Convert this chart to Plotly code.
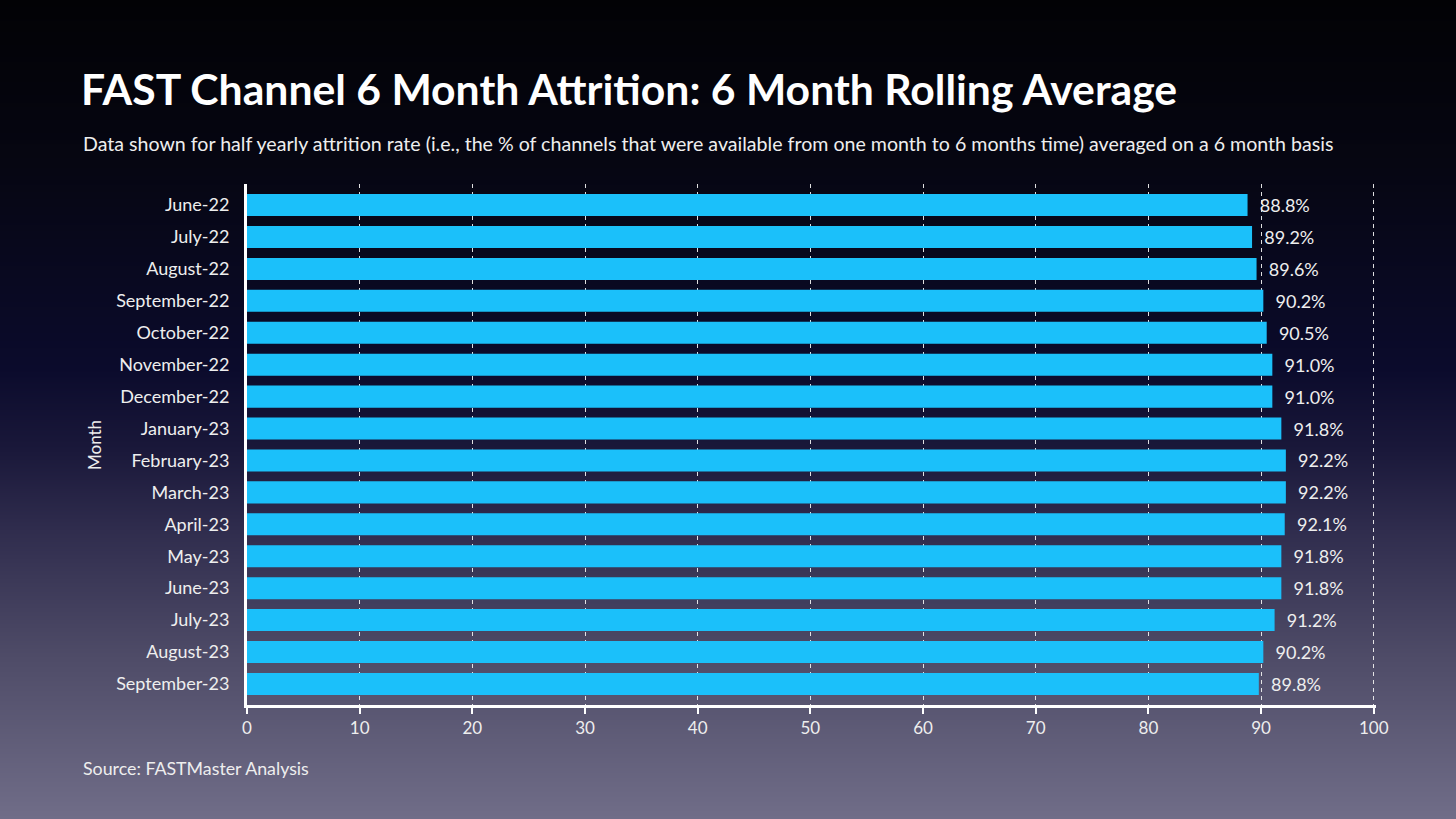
import base64
import struct
import zlib

import plotly.graph_objects as go

# ---------------- data ----------------
months = [
    "June-22", "July-22", "August-22", "September-22", "October-22",
    "November-22", "December-22", "January-23", "February-23", "March-23",
    "April-23", "May-23", "June-23", "July-23", "August-23", "September-23",
]
attrition = [88.8, 89.2, 89.6, 90.2, 90.5, 91.0, 91.0, 91.8, 92.2, 92.2,
             92.1, 91.8, 91.8, 91.2, 90.2, 89.8]
x_ticks = [0, 10, 20, 30, 40, 50, 60, 70, 80, 90, 100]

title_text = "FAST Channel 6 Month Attrition: 6 Month Rolling Average"
subtitle_text = ("Data shown for half yearly attrition rate (i.e., the % of channels that were "
                 "available from one month to 6 months time) averaged on a 6 month basis")
source_text = "Source: FASTMaster Analysis"

# ---------------- layout geometry ----------------
W, H = 1456, 819
L, R, T, B = 247, 80, 184, 114
PW, PH = W - L - R, H - T - B


def px(xp):
    return (xp - L) / PW


def py(yp):
    return (H - B - yp) / PH


# ---------------- background gradient (PNG data URI) ----------------
stops = [
    (0.00, (2, 2, 5)),
    (0.20, (6, 6, 18)),
    (0.45, (11, 11, 44)),
    (0.55, (26, 24, 58)),
    (0.65, (48, 45, 78)),
    (0.80, (78, 75, 103)),
    (1.00, (112, 109, 136)),
]


def grad_color(t):
    for (t0, c0), (t1, c1) in zip(stops[:-1], stops[1:]):
        if t0 <= t <= t1:
            f = (t - t0) / (t1 - t0) if t1 > t0 else 0
            return tuple(int(round(a + (b - a) * f)) for a, b in zip(c0, c1))
    return stops[-1][1]


def make_png(rows, width=2):
    raw = b"".join(b"\x00" + bytes(c) * width for c in rows)

    def chunk(tag, data):
        return (struct.pack(">I", len(data)) + tag + data
                + struct.pack(">I", zlib.crc32(tag + data) & 0xFFFFFFFF))

    ihdr = struct.pack(">IIBBBBB", width, len(rows), 8, 2, 0, 0, 0)
    return (b"\x89PNG\r\n\x1a\n" + chunk(b"IHDR", ihdr)
            + chunk(b"IDAT", zlib.compress(raw)) + chunk(b"IEND", b""))


rows = [grad_color(i / (H - 1)) for i in range(H)]
bg_uri = "data:image/png;base64," + base64.b64encode(make_png(rows)).decode()

# ---------------- figure ----------------
font_family = "Lato, 'Open Sans', sans-serif"
txt_color = "#eeeeee"

fig = go.Figure()
fig.add_trace(go.Bar(
    y=months,
    x=attrition,
    orientation="h",
    marker=dict(color="#1bc0fa", line=dict(width=0)),
    texttemplate="\u00a0\u00a0%{x:.1f}%",
    textposition="outside",
    cliponaxis=False,
    textfont=dict(family=font_family, size=18, color=txt_color),
    hoverinfo="x+y",
))

fig.update_layout(
    width=W,
    height=H,
    margin=dict(l=L, r=R, t=T, b=B, pad=0),
    paper_bgcolor="#0a0a1e",
    plot_bgcolor="rgba(0,0,0,0)",
    bargap=0.31,
    showlegend=False,
    font=dict(family=font_family, color=txt_color),
    images=[dict(
        source=bg_uri, xref="paper", yref="paper",
        x=px(0), y=py(0), sizex=W / PW, sizey=H / PH,
        xanchor="left", yanchor="top", sizing="stretch", layer="below",
    )],
    xaxis=dict(
        range=[0, 100.2],
        tickvals=x_ticks,
        showgrid=True,
        gridcolor="rgba(235,235,235,0.95)",
        griddash="4px,4px",
        gridwidth=1.3,
        showline=True,
        linecolor="white",
        linewidth=3,
        ticks="outside",
        ticklen=6,
        tickwidth=1.5,
        tickcolor="white",
        tickfont=dict(family=font_family, size=17, color=txt_color),
        zeroline=False,
        fixedrange=True,
    ),
    yaxis=dict(
        autorange=False,
        range=[len(months) - 1 + 0.66, -0.66],
        categoryorder="array",
        categoryarray=months,
        showgrid=False,
        showline=True,
        linecolor="white",
        linewidth=3,
        ticks="",
        ticklabelstandoff=11,
        tickfont=dict(family=font_family, size=18, color=txt_color),
        zeroline=False,
        fixedrange=True,
    ),
    annotations=[
        dict(text=title_text, xref="paper", yref="paper", x=px(79), y=py(88),
             xanchor="left", yanchor="middle", showarrow=False,
             font=dict(family=font_family, size=42.7, color="white", weight=700)),
        dict(text=subtitle_text, xref="paper", yref="paper", x=px(81), y=py(143),
             xanchor="left", yanchor="middle", showarrow=False,
             font=dict(family=font_family, size=19.6, color=txt_color)),
        dict(text=source_text, xref="paper", yref="paper", x=px(81), y=py(768),
             xanchor="left", yanchor="middle", showarrow=False,
             font=dict(family=font_family, size=17.8, color=txt_color)),
        dict(text="Month", xref="paper", yref="paper", x=px(94), y=py(445),
             xanchor="center", yanchor="middle", showarrow=False, textangle=-90,
             font=dict(family=font_family, size=17, color=txt_color)),
    ],
)

fig.write_html(
    "out.html",
    config={"displayModeBar": False},
    post_script="document.body.style.margin='0';document.body.style.overflow='hidden';",
)
